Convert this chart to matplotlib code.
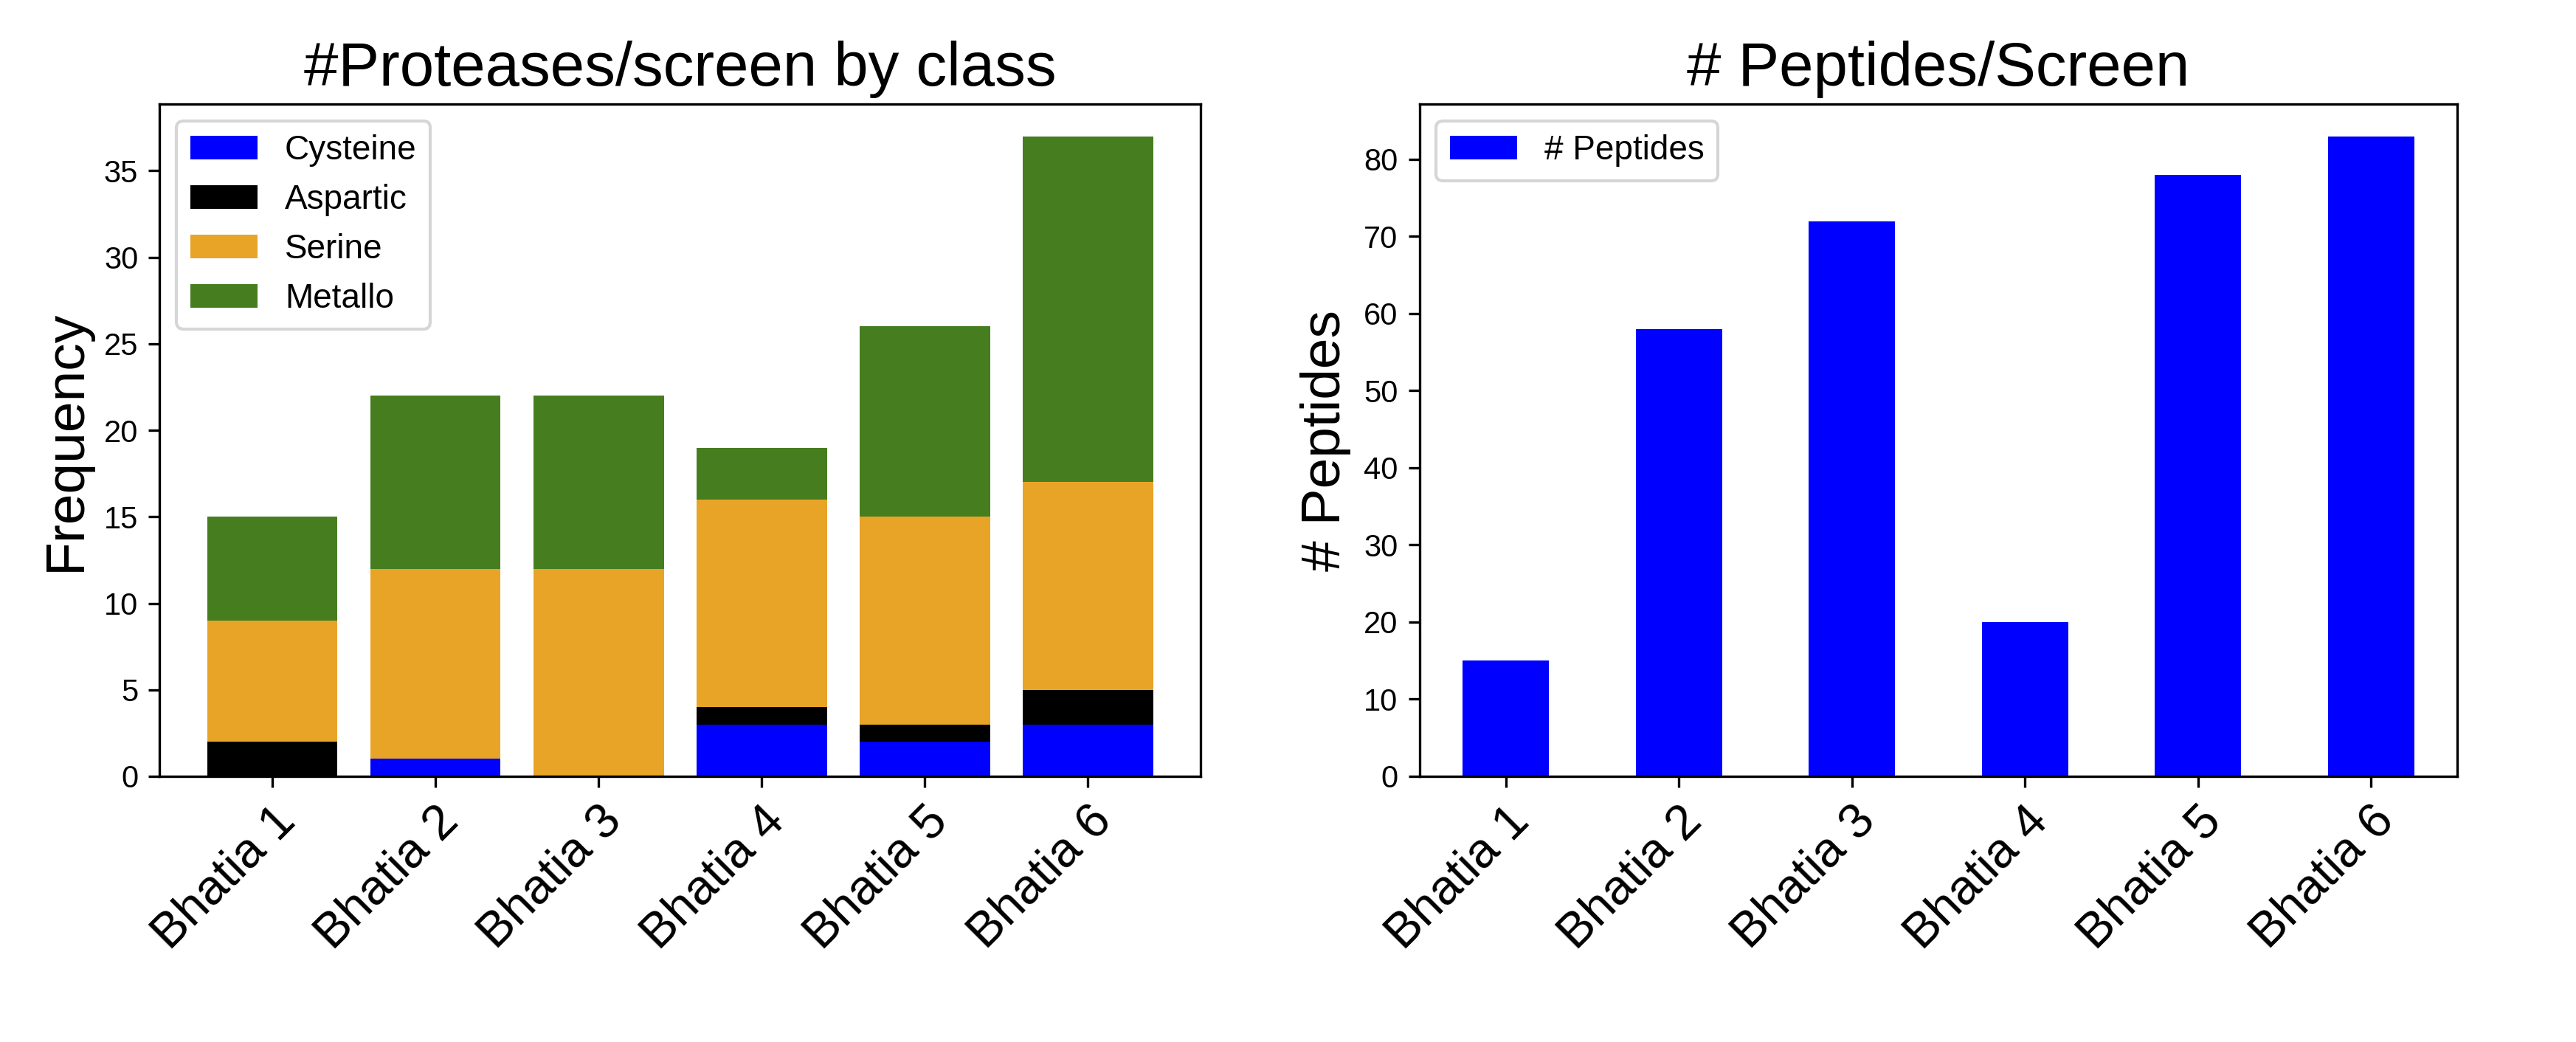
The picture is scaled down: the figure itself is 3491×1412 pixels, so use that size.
import matplotlib
matplotlib.use("Agg")
import matplotlib.pyplot as plt
import numpy as np

plt.rcParams['font.family'] = ['Liberation Sans', 'DejaVu Sans']

screens = ["Bhatia 1", "Bhatia 2", "Bhatia 3", "Bhatia 4", "Bhatia 5", "Bhatia 6"]
cysteine = [0, 1, 0, 3, 2, 3]
aspartic = [2, 0, 0, 1, 1, 2]
serine = [7, 11, 12, 12, 12, 12]
metallo = [6, 10, 10, 3, 11, 20]
peptides = [15, 58, 72, 20, 78, 83]

fig = plt.figure(figsize=(3491/300, 1412/300), dpi=300)
ax1 = fig.add_axes([0.062, 0.255, 0.404, 0.645])
ax2 = fig.add_axes([0.551, 0.255, 0.403, 0.645])

x = np.arange(len(screens))
bottom = np.zeros(len(screens))
for vals, col, lab in [(cysteine, 'blue', 'Cysteine'), (aspartic, 'black', 'Aspartic'),
                       (serine, '#E8A427', 'Serine'), (metallo, '#467E1F', 'Metallo')]:
    ax1.bar(x, vals, 0.8, bottom=bottom, color=col, label=lab)
    bottom += np.array(vals)
ax1.set_xticks(x)
ax1.set_xticklabels(screens, rotation=45, ha='right', rotation_mode='anchor', fontsize=16)
ax1.set_ylabel("Frequency", fontsize=18)
ax1.set_title("#Proteases/screen by class", fontsize=20)
ax1.legend(loc='upper left', fontsize=11)
ax1.tick_params(axis='y', labelsize=10)

ax2.bar(x, peptides, 0.5, color='blue', label='# Peptides')
ax2.set_xlim(-0.5, len(screens) - 0.5)
ax2.set_xticks(x)
ax2.set_xticklabels(screens, rotation=45, ha='right', rotation_mode='anchor', fontsize=16)
ax2.set_ylabel("# Peptides", fontsize=18)
ax2.set_title("# Peptides/Screen", fontsize=20)
ax2.legend(loc='upper left', fontsize=11)
ax2.tick_params(axis='y', labelsize=10)

fig.savefig("out.png", dpi=300)
